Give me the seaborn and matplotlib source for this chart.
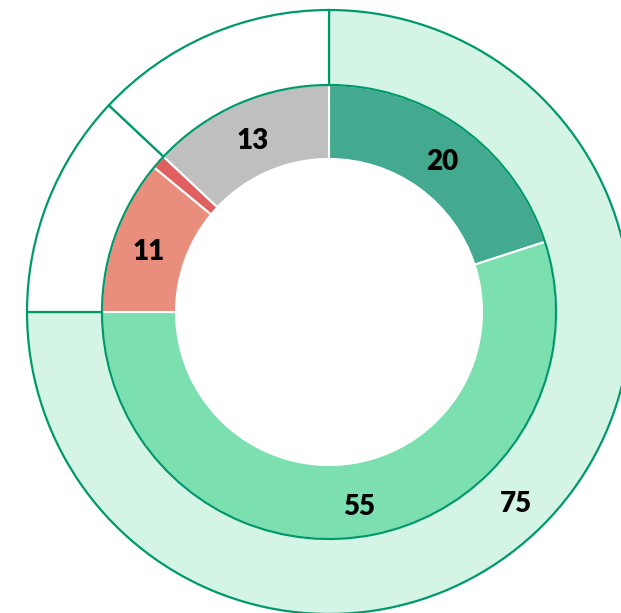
import matplotlib
matplotlib.use("Agg")
import matplotlib.pyplot as plt
import seaborn as sns

sns.set_theme(style="white")
plt.rcParams["font.family"] = ["Lato", "DejaVu Sans"]

# Outer ring: share of the total
outer_values = [75, 12, 13]
outer_labels = ["75", "", ""]
outer_colors = ["#D4F5E6", "#FFFFFF", "#FFFFFF"]

# Inner ring: breakdown of each outer segment
inner_values = [20, 55, 11, 1, 13]
inner_labels = ["20", "55", "11", "", "13"]
inner_colors = ["#43AA8F", "#7BDFB0", "#E98E7D", "#E06060", "#BFBFBF"]

W, H = 621, 613
cx, cy = 329, 312          # ring centre in pixels
r_out, r_mid, r_in = 302, 227, 153
scale = float(r_out)

fig = plt.figure(figsize=(W / 100, H / 100), dpi=100)
ax = fig.add_axes([0, 0, 1, 1])

label_kw = dict(fontsize=20, fontweight="heavy", color="black")

# inner ring first so the outer ring's green border sits on top
inner_wedges, inner_texts = ax.pie(
    inner_values,
    labels=inner_labels,
    colors=inner_colors,
    radius=r_mid / scale,
    startangle=90,
    counterclock=False,
    labeldistance=((r_mid + r_in) / 2 + 2) / r_mid,
    wedgeprops=dict(width=(r_mid - r_in) / scale, edgecolor="white", linewidth=1.5),
    textprops=label_kw,
)

outer_wedges, outer_texts = ax.pie(
    outer_values,
    labels=outer_labels,
    colors=outer_colors,
    radius=1.0,
    startangle=90,
    counterclock=False,
    labeldistance=((r_out + r_mid) / 2) / r_out,
    wedgeprops=dict(width=(r_out - r_mid) / scale, edgecolor="#00996B", linewidth=1.6),
    textprops=label_kw,
)

for t in list(inner_texts) + list(outer_texts):
    t.set_horizontalalignment("center")
    t.set_verticalalignment("center")
    x, y = t.get_position()
    t.set_position((x, y - 5 / scale))

ax.set_aspect("auto")
ax.set_xlim(-cx / scale, (W - cx) / scale)
ax.set_ylim(-(H - cy) / scale, cy / scale)
ax.axis("off")

fig.savefig("out.png", dpi=100, facecolor="white")
